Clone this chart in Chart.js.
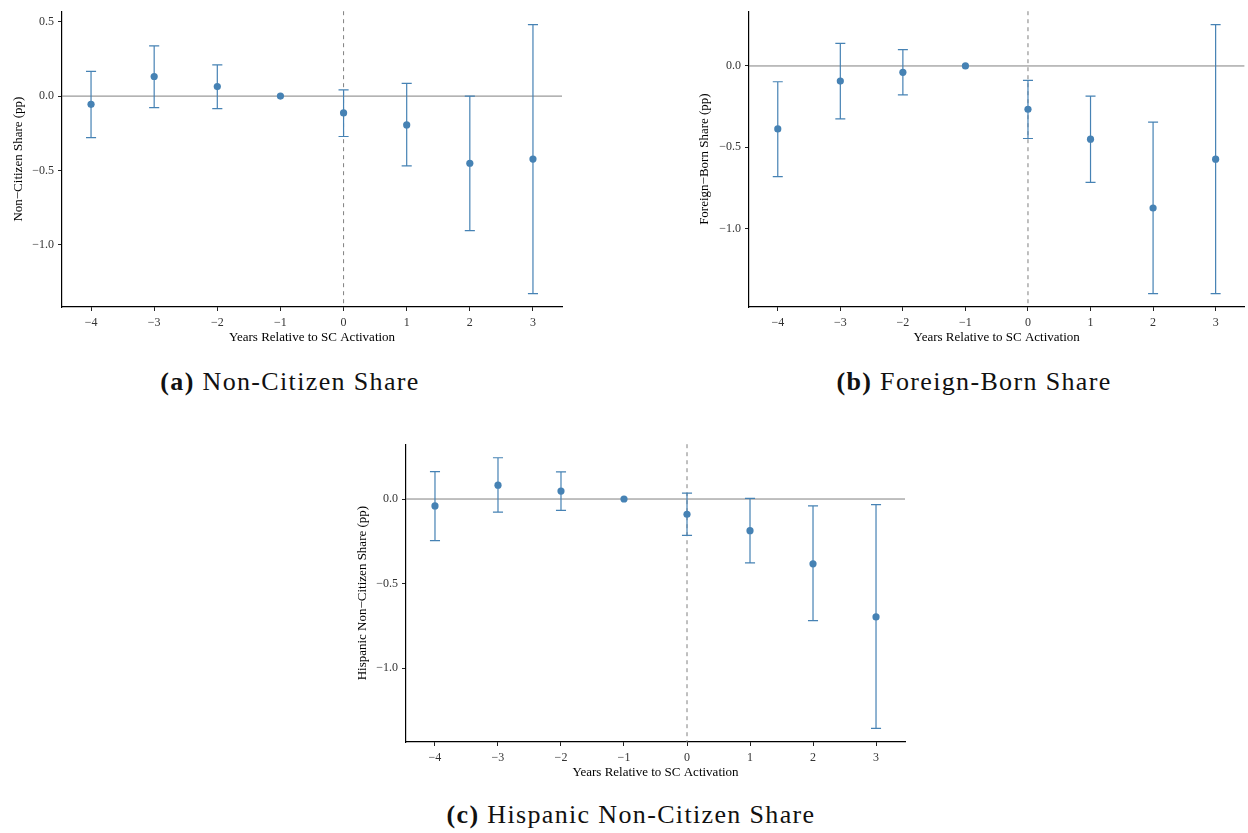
<!DOCTYPE html>
<html lang="en">
<head>
<meta charset="UTF-8">
<title>Event study</title>
<script src="https://cdn.jsdelivr.net/npm/chart.js@4.4.1/dist/chart.umd.min.js"></script>
<style>
  body { margin: 0; background: #fff; width: 1248px; height: 833px; position: relative; overflow: hidden; }
  .panel { position: absolute; }
  .cap { position: absolute; transform: translate(-50%, -50%); white-space: nowrap;
         font-family: "Liberation Serif", serif; font-size: 26px; letter-spacing: 1.35px; color: #111; }
  .cap b { font-weight: bold; }
</style>
</head>
<body>
<div class="panel" style="left:0px;top:0px;width:580px;height:350px;"><canvas id="chartA"></canvas></div>
<div class="panel" style="left:690px;top:0px;width:558px;height:350px;"><canvas id="chartB"></canvas></div>
<div class="panel" style="left:345px;top:433px;width:580px;height:352px;"><canvas id="chartC"></canvas></div>
<div class="cap" style="left:290px;top:382px;"><b>(a)</b> Non-Citizen Share</div>
<div class="cap" style="left:974px;top:382px;"><b>(b)</b> Foreign-Born Share</div>
<div class="cap" style="left:631px;top:815px;"><b>(c)</b> Hispanic Non-Citizen Share</div>

<script>
// years relative to activation
const years = [-4, -3, -2, -1, 0, 1, 2, 3];
const xTicks = [-4, -3, -2, -1, 0, 1, 2, 3];

// (a) non-citizen share
const estA = [-0.055, 0.132, 0.064, 0, -0.113, -0.194, -0.452, -0.424];
const loA  = [-0.280, -0.077, -0.084, 0, -0.272, -0.470, -0.905, -1.329];
const hiA  = [0.166, 0.338, 0.210, 0, 0.042, 0.086, 0.000, 0.481];
const yTicksA = [0.5, 0, -0.5, -1];

// (b) foreign-born share
const estB = [-0.387, -0.093, -0.039, 0, -0.266, -0.450, -0.873, -0.573];
const loB  = [-0.680, -0.325, -0.178, 0, -0.446, -0.716, -1.399, -1.399];
const hiB  = [-0.097, 0.139, 0.100, 0, -0.089, -0.186, -0.345, 0.254];
const yTicksB = [0, -0.5, -1];

// (c) hispanic non-citizen share
const estC = [-0.041, 0.082, 0.047, 0, -0.090, -0.187, -0.383, -0.697];
const loC  = [-0.246, -0.078, -0.067, 0, -0.215, -0.377, -0.719, -1.356];
const hiC  = [0.162, 0.244, 0.160, 0, 0.035, 0.004, -0.041, -0.033];
const yTicksC = [0, -0.5, -1];

const blue = '#4682b4';
const tickFont = { family: 'Liberation Serif', size: 12 };
const titleFont = { family: 'Liberation Serif', size: 13 };
const minus = v => String(v).replace('-', '\u2212');

// reference lines + error bars, drawn under the points
const errorBars = {
  id: 'errorBars',
  beforeDatasetsDraw(chart) {
    const ctx = chart.ctx, xs = chart.scales.x, ys = chart.scales.y, a = chart.chartArea;
    ctx.save();
    ctx.strokeStyle = '#808080';
    ctx.lineWidth = 1;
    ctx.beginPath();
    ctx.moveTo(a.left, ys.getPixelForValue(0));
    ctx.lineTo(a.right, ys.getPixelForValue(0));
    ctx.stroke();
    ctx.setLineDash([4, 4]);
    ctx.beginPath();
    ctx.moveTo(xs.getPixelForValue(0), a.top);
    ctx.lineTo(xs.getPixelForValue(0), a.bottom);
    ctx.stroke();
    ctx.setLineDash([]);

    const ds = chart.data.datasets[0];
    ctx.strokeStyle = blue;
    ctx.lineWidth = 1.2;
    ds.lo.forEach((lo, i) => {
      const hi = ds.hi[i];
      if (lo === hi) return;
      const x = xs.getPixelForValue(years[i]);
      const x0 = xs.getPixelForValue(years[i] - 0.08), x1 = xs.getPixelForValue(years[i] + 0.08);
      const y0 = ys.getPixelForValue(lo), y1 = ys.getPixelForValue(hi);
      ctx.beginPath();
      ctx.moveTo(x, y0); ctx.lineTo(x, y1);
      ctx.moveTo(x0, y0); ctx.lineTo(x1, y0);
      ctx.moveTo(x0, y1); ctx.lineTo(x1, y1);
      ctx.stroke();
    });
    ctx.restore();
  }
};

function makeChart(id, est, lo, hi, yTicks, yLabel, opt) {
  const yMin = Math.min(...lo), yMax = Math.max(...hi);
  const pad = (yMax - yMin) * 0.05;
  return new Chart(document.getElementById(id), {
    type: 'scatter',
    data: {
      datasets: [{
        data: years.map((x, i) => ({ x: x, y: est[i] })),
        lo: lo, hi: hi,
        backgroundColor: blue,
        borderWidth: 0,
        pointRadius: 3.6,
        pointHoverRadius: 3.6
      }]
    },
    options: {
      responsive: true,
      maintainAspectRatio: false,
      animation: false,
      layout: { padding: { top: opt.top, right: opt.right, bottom: 0, left: 0 } },
      plugins: { legend: { display: false }, tooltip: { enabled: false } },
      scales: {
        x: {
          type: 'linear', min: -4.46, max: 3.46,
          afterBuildTicks: s => { s.ticks = xTicks.map(v => ({ value: v })); },
          afterFit: s => { s.height = opt.xh; },
          grid: { drawOnChartArea: false, drawTicks: true, tickLength: 4, color: '#222' },
          border: { display: true, color: '#000', width: 1.2 },
          ticks: { font: tickFont, color: '#333', padding: 5, maxRotation: 0, callback: v => minus(v) },
          title: { display: true, text: 'Years Relative to SC Activation', font: titleFont, color: '#000',
                   padding: { top: 0, bottom: opt.xtp } }
        },
        y: {
          type: 'linear', min: yMin - pad, max: yMax + pad,
          afterBuildTicks: s => { s.ticks = yTicks.map(v => ({ value: v })); },
          afterFit: s => { s.width = opt.yw; },
          grid: { drawOnChartArea: false, drawTicks: true, tickLength: 4, color: '#222' },
          border: { display: true, color: '#000', width: 1.2 },
          ticks: { font: tickFont, color: '#333', padding: 4, callback: v => minus(v.toFixed(1)) },
          title: { display: true, text: yLabel, font: titleFont, color: '#000',
                   padding: { top: opt.ytp, bottom: 0 } }
        }
      }
    },
    plugins: [errorBars]
  });
}

makeChart('chartA', estA, loA, hiA, yTicksA, 'Non\u2212Citizen Share (pp)',
  { top: 8, right: 18, xh: 43, yw: 62, xtp: 4.5, ytp: 10.5 });
makeChart('chartB', estB, loB, hiB, yTicksB, 'Foreign\u2212Born Share (pp)',
  { top: 8, right: 0, xh: 43, yw: 59, xtp: 4.5, ytp: 7 });
makeChart('chartC', estC, loC, hiC, yTicksC, 'Hispanic Non\u2212Citizen Share (pp)',
  { top: 9, right: 20, xh: 43, yw: 61, xtp: 5, ytp: 10 });
</script>
</body>
</html>
